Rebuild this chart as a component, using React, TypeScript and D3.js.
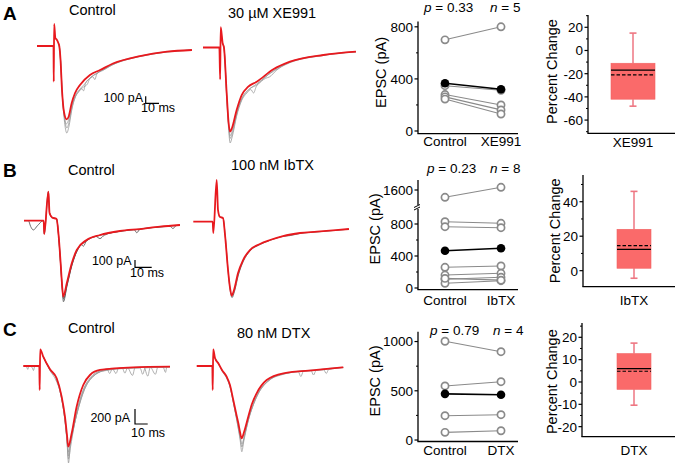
import React from 'react';
import * as d3 from 'd3';

const FONT = '"Liberation Sans", Arial, Helvetica, sans-serif';
const RED = '#E8191E';
const BOX_FILL = '#FA6A6A';
const WHISKER = '#EE7682';
const OPEN = '#8A8A8A';

// ---------------- Paired EPSC amplitudes (pA) ----------------
const epscCtrlA = [700, 280, 262, 245, 348];
const epscDrugA = [800, 200, 162, 130, 313];
const epscMeanA = [367, 321];
const epscTicksA = [0, 400, 800];
const epscMinorA = [200, 600];

const epscCtrlB = [1418, 829, 766, 259, 162, 109, 59, 120];
const epscDrugB = [1668, 809, 754, 275, 184, 134, 91, 98];
const epscMeanB = [466, 496];
const epscTicksB = [0, 400, 800, 1600];
const epscMinorB = [200, 600];

const epscCtrlC = [1003, 549, 247, 78];
const epscDrugC = [897, 592, 257, 94];
const epscMeanC = [469, 460];
const epscTicksC = [0, 500, 1000];
const epscMinorC = [250, 750];

// ---------------- Percent change: [low whisker, Q1, median, mean, Q3, high whisker] ----------------
const pctStatsA = [-48, -42, -17, -21, -11, 15];
const pctStatsB = [-4.4, 1.4, 12.4, 14.5, 24, 46];
const pctStatsC = [-10.4, -3.3, 6.0, 4.8, 12.7, 17.4];
const pctTicksA = [-60, -40, -20, 0, 20];
const pctMinorA = [-70, -50, -30, -10, 10, 30];
const pctTicksB = [0, 20, 40];
const pctMinorB = [10, 30, 50];
const pctTicksC = [-20, -10, 0, 10, 20];
const pctMinorC = [-15, -5, 5, 15, 25];

// ---------------- EPSC traces: [time ms, current pA] ----------------
type P = [number, number];
const traceACtrlRed: P[] = [[0,0],[12.4,0],[12.6,-510],[12.9,314],[13.8,114],[14.9,90],[16.1,40],[16.8,-7],[17.7,-200],[18.8,-629],[20.3,-943],[22.3,-1047],[23.7,-1014],[26.1,-814],[28.6,-671],[32.3,-557],[39.8,-414],[47.4,-343],[57.1,-250],[77.4,-143],[97.7,-81],[116.5,-57]];
const traceACtrlGray: P[][] = [
  [[16.1,40],[16.8,-7],[17.8,-230],[19,-700],[20.5,-1050],[22.4,-1243],[24,-1150],[26.3,-900],[28.8,-730],[31,-660],[33.5,-610],[35,-640],[36.5,-530],[40,-460],[45,-390],[50,-330],[57,-265],[77,-150],[98,-85],[116.5,-57]],
  [[16.1,40],[16.8,-7],[17.8,-220],[19,-680],[20.5,-1000],[22.5,-1171],[24.2,-1080],[26.5,-860],[29,-720],[31.5,-650],[34,-600],[38,-540],[39.5,-470],[44,-400],[50,-345],[57,-260],[77,-145],[98,-80],[116.5,-55]],
  [[16.1,40],[16.8,-7],[17.7,-210],[18.9,-660],[20.4,-980],[22.2,-1114],[24,-1040],[26.6,-830],[29,-700],[32,-620],[35,-560],[42,-440],[43.5,-480],[45,-400],[52,-320],[60,-240],[80,-140],[100,-80],[116.5,-60]],
];
const traceADrugRed: P[] = [[0,0],[12.3,0],[12.9,-454],[13.3,289],[14.8,60],[15.8,-7],[17.8,-654],[19.2,-1064],[20.3,-1203],[21.8,-1150],[25.3,-893],[29.1,-679],[33.8,-564],[40.4,-489],[52.9,-311],[65.4,-203],[90.5,-107],[115,-60]];
const traceADrugGray: P[][] = [
  [[14.8,60],[15.8,-7],[17.8,-700],[19.2,-1150],[20.4,-1364],[21.9,-1280],[25.3,-980],[29,-760],[33,-650],[36,-600],[38,-650],[40,-560],[45,-450],[53,-340],[65,-220],[90,-115],[115,-62]],
  [[14.8,60],[15.8,-7],[17.8,-680],[19.3,-1120],[20.4,-1300],[22,-1230],[25.4,-950],[29.2,-730],[34,-610],[40.4,-520],[44,-470],[53,-330],[65,-212],[90,-110],[115,-60]],
  [[14.8,60],[15.8,-7],[17.9,-670],[19.3,-1100],[20.5,-1260],[22,-1190],[25.5,-930],[29.5,-720],[34.5,-600],[41,-530],[47,-440],[50,-420],[55,-330],[65,-210],[90,-108],[115,-60]],
];

const traceBCtrlRed: P[] = [[0,0],[11.8,0],[12.1,-182],[14.6,397],[15.3,105],[16.8,44],[19.5,23],[20.7,-196],[21.9,-566],[22.8,-881],[23.5,-1041],[25.6,-858],[28.6,-584],[31.6,-401],[37.5,-264],[45.5,-196],[57.5,-141],[69.5,-114],[81.4,-82],[93.4,-59]];
const traceBCtrlGray: P[][] = [
  [[0,0],[2.6,0],[4,-80],[5.6,-127],[8,-70],[11.6,0],[12.1,-182],[14.6,397],[15.3,105],[16.8,44],[19.5,23],[20.7,-210],[21.9,-600],[22.9,-930],[23.6,-1110],[25.7,-900],[28.7,-610],[31.6,-420],[37.5,-275],[43,-215],[45.5,-245],[48,-200],[57.5,-145],[66,-122],[67.5,-165],[69.5,-116],[81.4,-86],[87.5,-78],[89.2,-108],[91,-68],[93.4,-62]],
  [[15.3,105],[16.8,44],[19.5,23],[20.8,-220],[22,-610],[23,-940],[23.7,-1070],[25.8,-880],[28.8,-600],[31.8,-415],[34.5,-330],[35.5,-350],[37.6,-270],[45.5,-200],[57.5,-145],[69.5,-115],[81.4,-84],[93.4,-60]],
];
const traceBDrugRed: P[] = [[0,0],[11.6,0],[12.0,-155],[14.0,571],[14.8,160],[16.0,64],[17.8,51],[19.0,-182],[20.8,-662],[22.0,-908],[23.0,-1014],[24.4,-936],[26.8,-703],[29.8,-525],[33.9,-388],[39.9,-305],[45.9,-251],[53.7,-196],[63.9,-155],[74.1,-137],[85.4,-114],[93.2,-100]];
const traceBDrugGray: P[][] = [
  [[16,64],[17.8,51],[19.1,-190],[20.9,-690],[22.1,-940],[23.2,-1040],[24.6,-960],[27,-730],[30,-540],[34,-400],[40,-312],[46,-255],[54,-200],[58,-190],[64,-160],[74,-140],[85.4,-118],[93.2,-102]],
];

const traceCCtrlRed: P[] = [[0,0],[12.6,0],[12.9,-320],[13.3,223],[15.7,124],[21.0,-44],[26.3,-164],[30.2,-409],[32.8,-676],[34.4,-920],[35.4,-1076],[38.1,-897],[42.0,-543],[47.2,-253],[52.5,-120],[60.4,-53],[86.4,-17],[115.5,-9]];
const traceCCtrlGray: P[][] = [
  [[0,0],[2.5,-10],[3.5,-45],[4.5,0],[7,-20],[8,-60],[9,-5],[12.6,0]],
  [[15.7,124],[21,-55],[26.3,-185],[30.2,-440],[32.8,-730],[34.4,-1010],[35.6,-1293],[37,-1060],[38.8,-900],[42.5,-580],[48,-290],[53,-150],[60.4,-65],[70,-32],[73,-100],[75,-28],[82,-22],[86,-125],[88,-22],[100,-16],[104,-110],[106,-13],[115.5,-10]],
  [[15.7,124],[21,-40],[26.3,-175],[30,-420],[33,-720],[34.6,-1000],[35.5,-1200],[37,-1030],[39.5,-830],[43,-590],[48.5,-300],[54,-155],[61,-72],[78,-32],[80,-95],[82,-27],[95,-16],[98,-135],[100,-16],[115.5,-10]],
  [[15.7,124],[21,-48],[26.3,-170],[30.2,-420],[32.6,-700],[34.2,-950],[35.3,-1150],[36.8,-1010],[39,-860],[42.5,-610],[47.5,-310],[53,-165],[60,-82],[66,-42],[68,-100],[70,-40],[90,-18],[110,-12],[112,-85],[113,-10],[115.5,-10]],
  [[15.7,124],[21,-60],[26,-200],[29.5,-380],[32.5,-680],[34.3,-960],[35.6,-1240],[37.2,-1080],[40,-800],[44,-520],[49,-280],[55,-140],[62,-70],[84,-30],[92,-28],[94,-110],[96,-25],[108,-18],[115.5,-12]],
];
const traceCDrugRed: P[] = [[0,0],[12.3,0],[12.6,-320],[13.0,223],[14.4,107],[17.0,36],[19.9,-53],[23.6,-143],[26.2,-253],[28.8,-453],[31.0,-627],[32.8,-764],[34.1,-880],[35.4,-964],[37.3,-880],[40.6,-676],[43.5,-507],[47.2,-364],[55.1,-187],[68.2,-97],[94.4,-53],[115.4,-17]];
const traceCDrugGray: P[][] = [
  [[14.4,107],[17,36],[19.9,-65],[23.6,-165],[26.2,-280],[28.8,-480],[31,-670],[32.8,-840],[34.3,-1000],[35.5,-1143],[37,-1010],[40.6,-730],[43.5,-560],[47.2,-400],[55,-215],[68,-112],[80,-78],[82,-140],[84,-72],[94.4,-58],[115.4,-20]],
  [[14.4,107],[17,36],[19.9,-55],[23.6,-150],[26.2,-265],[28.8,-465],[31,-650],[32.8,-800],[34.2,-950],[35.6,-1080],[37.2,-965],[40.8,-705],[44,-545],[48,-385],[56,-205],[68.2,-102],[90,-62],[92,-120],[94,-57],[115.4,-20]],
  [[14.4,107],[17,36],[20,-60],[23.8,-160],[26.5,-290],[29,-500],[31.2,-690],[33,-850],[34.4,-960],[35.6,-1040],[37.4,-940],[41,-700],[44.5,-520],[49,-350],[58,-180],[70,-100],[100,-50],[102,-100],[104,-45],[115.4,-18]],
];

// ---------------- Components ----------------
function TracePanel(props: { x0: number; y0: number; kx: number; ky: number; red: P[]; grays: P[][]; grayColor: string; grayWidth: number }) {
  const { x0, y0, kx, ky, red, grays, grayColor, grayWidth } = props;
  const x = d3.scaleLinear().domain([0, 100]).range([x0, x0 + 100 * kx]);
  const y = d3.scaleLinear().domain([0, -1000]).range([y0, y0 + 1000 * ky]);
  const line = d3.line<P>().x(d => x(d[0])).y(d => y(d[1])).curve(d3.curveMonotoneX);
  return (
    <g>
      {grays.map((g, i) => (
        <path key={i} d={line(g) || ''} fill="none" stroke={grayColor} strokeWidth={grayWidth} />
      ))}
      <path d={line(red) || ''} fill="none" stroke={RED} strokeWidth={1.8} strokeLinejoin="round" />
    </g>
  );
}

function ScaleBar(props: { cx: number; cy: number; kx: number; ky: number; pa: number; paLabel: string; paTextX: number; paTextY: number; msTextX: number; msTextY: number }) {
  const { cx, cy, kx, ky, pa, paLabel, paTextX, paTextY, msTextX, msTextY } = props;
  const x = d3.scaleLinear().domain([0, 10]).range([cx, cx + 10 * kx]);
  const y = d3.scaleLinear().domain([0, pa]).range([cy, cy - pa * ky]);
  return (
    <g>
      <path d={`M${x(0)},${y(pa)}L${x(0)},${y(0)}L${x(10)},${y(0)}`} fill="none" stroke="#000" strokeWidth={1.2} />
      <text x={paTextX} y={paTextY} fontSize={12.5} textAnchor="end">{paLabel}</text>
      <text x={msTextX} y={msTextY} fontSize={12.5}>10 ms</text>
    </g>
  );
}

function PairPlot(props: {
  ctrl: number[]; drug: number[]; mean: number[]; yDomain: number[]; yRange: number[];
  ticks: number[]; minor: number[]; drugLabel: string; labelY: number;
  pText: string; nText: string; pX: number; nX: number; textY: number;
  titleX: number; titleY: number; broken?: boolean;
}) {
  const { ctrl, drug, mean, yDomain, yRange, ticks, minor, drugLabel, labelY, pText, nText, pX, nX, textY, titleX, titleY, broken } = props;
  const y = d3.scaleLinear().domain(yDomain).range(yRange);
  const x = d3.scaleLinear().domain([0, 1]).range([445, 501]);
  const ax = 418, axEnd = 518;
  const yBot = yRange[0], yTop = yRange[yRange.length - 1];
  const breakY = broken ? y(1100) : 0;
  return (
    <g>
      {broken ? (
        <g>
          <line x1={ax} x2={ax} y1={yBot} y2={breakY + 2} stroke="#000" strokeWidth={1.3} />
          <line x1={ax} x2={ax} y1={breakY - 2} y2={yTop} stroke="#000" strokeWidth={1.3} />
          <line x1={ax - 4} x2={ax + 2} y1={breakY + 0.5} y2={breakY - 2.5} stroke="#000" strokeWidth={1} />
          <line x1={ax - 4} x2={ax + 2} y1={breakY + 3} y2={breakY} stroke="#000" strokeWidth={1} />
        </g>
      ) : (
        <line x1={ax} x2={ax} y1={yBot} y2={yTop} stroke="#000" strokeWidth={1.3} />
      )}
      <line x1={ax - 0.6} x2={axEnd} y1={yBot} y2={yBot} stroke="#000" strokeWidth={1.3} />
      {ticks.map(t => (
        <g key={t}>
          <line x1={ax - 3.5} x2={ax} y1={y(t)} y2={y(t)} stroke="#000" strokeWidth={1.2} />
          <text x={ax - 5} y={y(t)} dy="0.36em" fontSize={13.5} textAnchor="end">{t}</text>
        </g>
      ))}
      {minor.map(t => (
        <line key={'m' + t} x1={ax - 2} x2={ax} y1={y(t)} y2={y(t)} stroke="#000" strokeWidth={1} />
      ))}
      <text x={x(0)} y={labelY} fontSize={13.5} textAnchor="middle">Control</text>
      <text x={x(1)} y={labelY} fontSize={13.5} textAnchor="middle">{drugLabel}</text>
      <text transform={`translate(${titleX},${titleY}) rotate(-90)`} fontSize={14.5} textAnchor="middle">EPSC (pA)</text>
      <text x={pX} y={textY} fontSize={13.5}><tspan fontStyle="italic">p</tspan>{' = ' + pText}</text>
      <text x={nX} y={textY} fontSize={13.5}><tspan fontStyle="italic">n</tspan>{' = ' + nText}</text>
      {ctrl.map((c, i) => (
        <line key={'l' + i} x1={x(0)} x2={x(1)} y1={y(c)} y2={y(drug[i])} stroke={OPEN} strokeWidth={1.1} />
      ))}
      {ctrl.map((c, i) => (
        <g key={'c' + i}>
          <circle cx={x(0)} cy={y(c)} r={3.6} fill="#fff" stroke={OPEN} strokeWidth={1.7} />
          <circle cx={x(1)} cy={y(drug[i])} r={3.6} fill="#fff" stroke={OPEN} strokeWidth={1.7} />
        </g>
      ))}
      <line x1={x(0)} x2={x(1)} y1={y(mean[0])} y2={y(mean[1])} stroke="#000" strokeWidth={1.6} />
      <circle cx={x(0)} cy={y(mean[0])} r={4.3} fill="#000" />
      <circle cx={x(1)} cy={y(mean[1])} r={4.3} fill="#000" />
    </g>
  );
}

function BoxPlot(props: {
  stats: number[]; yDomain: number[]; yRange: number[]; ticks: number[]; minor: number[];
  ax: number; cx: number; w: number; label: string; labelY: number; titleX: number; titleY: number;
}) {
  const { stats, yDomain, yRange, ticks, minor, ax, cx, w, label, labelY, titleX, titleY } = props;
  const y = d3.scaleLinear().domain(yDomain).range(yRange);
  const [lo, q1, med, mean, q3, hi] = stats;
  const yBot = yRange[0], yTop = yRange[1];
  return (
    <g>
      <line x1={cx} x2={cx} y1={y(hi)} y2={y(q3)} stroke={WHISKER} strokeWidth={1.5} />
      <line x1={cx} x2={cx} y1={y(q1)} y2={y(lo)} stroke={WHISKER} strokeWidth={1.5} />
      <line x1={cx - 3.5} x2={cx + 3.5} y1={y(hi)} y2={y(hi)} stroke={WHISKER} strokeWidth={1.6} />
      <line x1={cx - 3.5} x2={cx + 3.5} y1={y(lo)} y2={y(lo)} stroke={WHISKER} strokeWidth={1.6} />
      <rect x={cx - w / 2} y={y(q3)} width={w} height={y(q1) - y(q3)} fill={BOX_FILL} stroke="#F26363" strokeWidth={0.6} />
      <line x1={cx - w / 2} x2={cx + w / 2} y1={y(med)} y2={y(med)} stroke="#000" strokeWidth={1.2} />
      <line x1={cx - w / 2} x2={cx + w / 2} y1={y(mean)} y2={y(mean)} stroke="#000" strokeWidth={1.2} strokeDasharray="3.5,2" />
      <line x1={ax} x2={ax} y1={yBot} y2={yTop} stroke="#000" strokeWidth={1.3} />
      <line x1={ax - 0.6} x2={675} y1={yBot} y2={yBot} stroke="#000" strokeWidth={1.3} />
      {ticks.map(t => (
        <g key={t}>
          <line x1={ax - 3.5} x2={ax} y1={y(t)} y2={y(t)} stroke="#000" strokeWidth={1.2} />
          <text x={ax - 5} y={y(t)} dy="0.36em" fontSize={13.5} textAnchor="end">{t}</text>
        </g>
      ))}
      {minor.map(t => (
        <line key={'m' + t} x1={ax - 2} x2={ax} y1={y(t)} y2={y(t)} stroke="#000" strokeWidth={1} />
      ))}
      <text x={cx} y={labelY} fontSize={13.5} textAnchor="middle">{label}</text>
      <text transform={`translate(${titleX},${titleY}) rotate(-90)`} fontSize={14.5} textAnchor="middle">Percent Change</text>
    </g>
  );
}

export default function App() {
  return (
    <svg width={682} height={467} viewBox="0 0 682 467" style={{ position: 'absolute', left: 0, top: 0, background: '#fff' }} fontFamily={FONT}>
      <rect x={0} y={0} width={682} height={467} fill="#fff" />
      {/* Row A */}
      <text x={3} y={20} fontSize={19} fontWeight="bold">A</text>
      <text x={69} y={15} fontSize={14.5}>Control</text>
      <text x={228} y={17.5} fontSize={14.5}>30 µM XE991</text>
      <TracePanel x0={37} y0={46} kx={1.33} ky={0.07} red={traceACtrlRed} grays={traceACtrlGray} grayColor="#9A9A9A" grayWidth={0.8} />
      <TracePanel x0={203} y0={47.5} kx={1.33} ky={0.07} red={traceADrugRed} grays={traceADrugGray} grayColor="#9A9A9A" grayWidth={0.8} />
      <ScaleBar cx={145.7} cy={103.3} kx={1.33} ky={0.07} pa={100} paLabel="100 pA" paTextX={143} paTextY={101.7} msTextX={141} msTextY={112} />
      <PairPlot ctrl={epscCtrlA} drug={epscDrugA} mean={epscMeanA} yDomain={[-20, 840]} yRange={[133.6, 21.6]}
        ticks={epscTicksA} minor={epscMinorA} drugLabel="XE991" labelY={146} pText="0.33" nText="5" pX={424} nX={490} textY={11.5}
        titleX={386} titleY={72.5} />
      <BoxPlot stats={pctStatsA} yDomain={[-71.4, 30.6]} yRange={[133.3, 15]} ticks={pctTicksA} minor={pctMinorA}
        ax={588} cx={633} w={44} label="XE991" labelY={146.5} titleX={557} titleY={71.5} />

      {/* Row B */}
      <text x={3} y={176.7} fontSize={19} fontWeight="bold">B</text>
      <text x={68} y={175} fontSize={14.5}>Control</text>
      <text x={231} y={170} fontSize={14.5}>100 nM IbTX</text>
      <TracePanel x0={24} y0={220.7} kx={1.67} ky={0.073} red={traceBCtrlRed} grays={traceBCtrlGray} grayColor="#4A4A4A" grayWidth={0.8} />
      <TracePanel x0={193.3} y0={221.7} kx={1.67} ky={0.073} red={traceBDrugRed} grays={traceBDrugGray} grayColor="#4A4A4A" grayWidth={0.8} />
      <ScaleBar cx={135} cy={267.3} kx={1.67} ky={0.073} pa={100} paLabel="100 pA" paTextX={131.5} paTextY={265} msTextX={130} msTextY={276.7} />
      <PairPlot ctrl={epscCtrlB} drug={epscDrugB} mean={epscMeanB} yDomain={[-20, 1000, 1200, 1850]} yRange={[289.6, 208, 206, 180]}
        ticks={epscTicksB} minor={epscMinorB} drugLabel="IbTX" labelY={304.5} pText="0.23" nText="8" pX={427} nX={490} textY={173.3}
        titleX={380} titleY={229} broken />
      <BoxPlot stats={pctStatsB} yDomain={[-9.3, 55.5]} yRange={[286.7, 175]} ticks={pctTicksB} minor={pctMinorB}
        ax={583} cx={634} w={34} label="IbTX" labelY={304.5} titleX={560} titleY={230.8} />

      {/* Row C */}
      <text x={3} y={336} fontSize={19} fontWeight="bold">C</text>
      <text x={68} y={333} fontSize={14.5}>Control</text>
      <text x={237} y={338} fontSize={14.5}>80 nM DTX</text>
      <TracePanel x0={23.3} y0={366} kx={1.27} ky={0.075} red={traceCCtrlRed} grays={traceCCtrlGray} grayColor="#9A9A9A" grayWidth={0.8} />
      <TracePanel x0={196.7} y0={366} kx={1.27} ky={0.075} red={traceCDrugRed} grays={traceCDrugGray} grayColor="#9A9A9A" grayWidth={0.8} />
      <ScaleBar cx={135} cy={424} kx={1.27} ky={0.075} pa={200} paLabel="200 pA" paTextX={130} paTextY={421.7} msTextX={131} msTextY={437.3} />
      <PairPlot ctrl={epscCtrlC} drug={epscDrugC} mean={epscMeanC} yDomain={[-15, 1100]} yRange={[441.5, 331.7]}
        ticks={epscTicksC} minor={epscMinorC} drugLabel="DTX" labelY={455} pText="0.79" nText="4" pX={430} nX={493} textY={335}
        titleX={380} titleY={381} />
      <BoxPlot stats={pctStatsC} yDomain={[-24.5, 26.4]} yRange={[436.7, 323]} ticks={pctTicksC} minor={pctMinorC}
        ax={582} cx={634} w={34} label="DTX" labelY={455} titleX={557} titleY={381.7} />
    </svg>
  );
}
